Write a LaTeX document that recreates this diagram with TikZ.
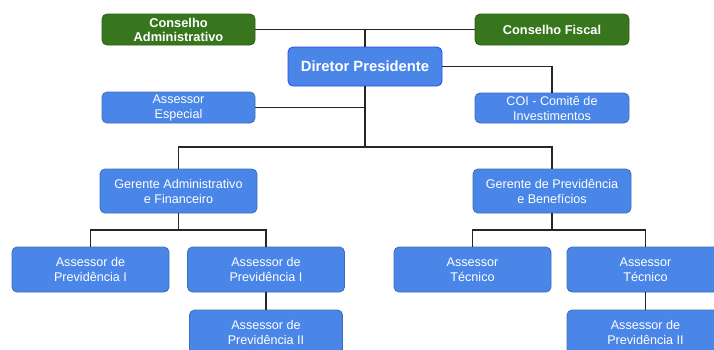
\documentclass[tikz,border=0pt]{standalone}
\usepackage{fontspec}
\setmainfont{Liberation Sans}
\definecolor{boxblue}{HTML}{4A86E8}
\definecolor{boxline}{HTML}{3D6DB8}
\definecolor{dirline}{HTML}{2F45F0}
\definecolor{boxgreen}{HTML}{38761D}
\definecolor{greenline}{HTML}{2E5E18}
\tikzset{
	unit/.style={draw=boxline, fill=boxblue, text=white, rounded corners=5pt, line width=0.8pt,
		inner sep=0pt, align=center, font=\fontsize{12.6}{15}\selectfont},
	council/.style={unit, draw=greenline, fill=boxgreen, font=\bfseries\fontsize{12.8}{14}\selectfont},
	head/.style={unit, draw=dirline, font=\bfseries\fontsize{14.8}{17}\selectfont},
	link/.style={draw=black!85, line width=1.5pt}
}
\begin{document}
\begin{tikzpicture}[x=1pt, y=-1pt]
		\useasboundingbox (0,0) rectangle (714,349);
		\clip (0,0) rectangle (714,349);
		\node[council, minimum width=153, minimum height=31] (cadm) at (178.5,29.5) {Conselho\\Administrativo};
		\node[council, minimum width=154, minimum height=31] (cfis) at (552,29.5) {Conselho Fiscal};
		\node[head, minimum width=154, minimum height=39] (dir) at (365,66.5) {Diretor Presidente};
		\node[unit, minimum width=153, minimum height=31] (aesp) at (178.5,107.5) {Assessor\\Especial};
		\node[unit, minimum width=154, minimum height=30] (coi) at (552,108) {COI - Comitê de\\Investimentos};
		\node[unit, minimum width=157, minimum height=44] (gadm) at (178.5,191) {Gerente Administrativo\\e Financeiro};
		\node[unit, minimum width=158, minimum height=44] (gprev) at (552,191) {Gerente de Previdência\\e Benefícios};
		\node[unit, minimum width=157, minimum height=45] (apa) at (90.5,269.5) {Assessor de\\Previdência I};
		\node[unit, minimum width=157, minimum height=45] (apb) at (266,269.5) {Assessor de\\Previdência I};
		\node[unit, minimum width=153, minimum height=45] (apc) at (266,332.5) {Assessor de\\Previdência II};
		\node[unit, minimum width=157, minimum height=45] (ata) at (472.5,269.5) {Assessor\\Técnico};
		\node[unit, minimum width=157, minimum height=45] (atb) at (645.5,269.5) {Assessor\\Técnico};
		\node[unit, minimum width=157, minimum height=45] (apd) at (645.5,332.5) {Assessor de\\Previdência II};
		\coordinate (bus) at (365,147);
		\coordinate (lbus) at (178.5,230);
		\coordinate (rbus) at (552,230);
		\draw[link] (cadm.east) -- (cfis.west);
		\draw[link] (dir.north) -- (dir.north |- cadm.east);
		\draw[link] (dir.east) -| (coi.north);
		\draw[link] (aesp.east) -- (aesp.east -| dir.south);
		\draw[link] (dir.south) -- (bus);
		\draw[link] (gadm.north) |- (bus) -| (gprev.north);
		\draw[link] (gadm.south) -- (lbus);
		\draw[link] (apa.north) |- (lbus) -| (apb.north);
		\draw[link] (apb.south) -- (apc.north);
		\draw[link] (gprev.south) -- (rbus);
		\draw[link] (ata.north) |- (rbus) -| (atb.north);
		\draw[link] (atb.south) -- (apd.north);
	\end{tikzpicture}
\end{document}
